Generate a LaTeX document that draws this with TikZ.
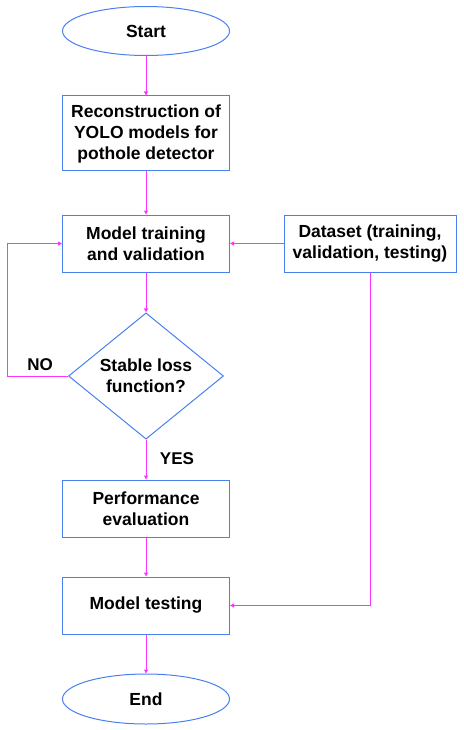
\documentclass[tikz,border=0pt]{standalone}
\usepackage{fontspec}
\setmainfont{Liberation Sans}
\usetikzlibrary{shapes.geometric,arrows.meta}
\definecolor{bord}{HTML}{4A7FF0}
\definecolor{conn}{HTML}{FF33FF}
\tikzset{
  x=1pt,y=-1pt,
  base/.style={draw=bord,line width=1pt,font=\fontsize{17.5}{21}\selectfont\bfseries,align=center,inner sep=0pt},
  boxnode/.style={base,rectangle,minimum width=167pt},
  term/.style={base,ellipse,minimum width=167pt,minimum height=49pt},
  decis/.style={base,diamond,minimum width=155pt,minimum height=126pt},
  conline/.style={draw=conn,line width=1pt,-{Triangle[length=4pt,width=4pt]}},
  lbl/.style={font=\fontsize{17}{20}\selectfont\bfseries}
}
\begin{document}
\begin{tikzpicture}
\useasboundingbox (0,0) rectangle (463,730);
\node[term] (start) at (146,31) {Start};
\node[boxnode,minimum height=75pt] (recon) at (146,133.5) {Reconstruction of\\YOLO models for\\pothole detector};
\node[boxnode,minimum height=57pt] (train) at (146,243.5) {Model training\\and validation};
\node[base,rectangle,minimum width=172pt,minimum height=57pt] (data) at (370,243.5) {Dataset (training,\\validation, testing)};
\node[decis] (dec) at (146,376) {Stable loss\\function?};
\node[boxnode,minimum height=57pt] (perf) at (146,508.5) {Performance\\evaluation};
\node[boxnode,minimum height=57pt] (test) at (146,605.5) {Model testing};
\node[term,minimum height=50pt] (end) at (146,699) {End};
\coordinate (noc) at (7,376);
\coordinate (nob) at (7,243.5);
\coordinate (dc) at (370,605.5);
\draw[conline] (start) -- (recon);
\draw[conline] (recon) -- (train);
\draw[conline] (train) -- (dec);
\draw[conline] (dec) -- (perf);
\draw[conline] (perf) -- (test);
\draw[conline] (test) -- (end);
\draw[conline] (data) -- (train);
\draw[conline] (dec.west) -- (noc) -- (nob) -- (train.west);
\draw[conline] (data.south) -- (dc) -- (test.east);
\node[lbl] (no) at (40,365) {NO};
\node[lbl] (yes) at (177,459) {YES};
\end{tikzpicture}
\end{document}
